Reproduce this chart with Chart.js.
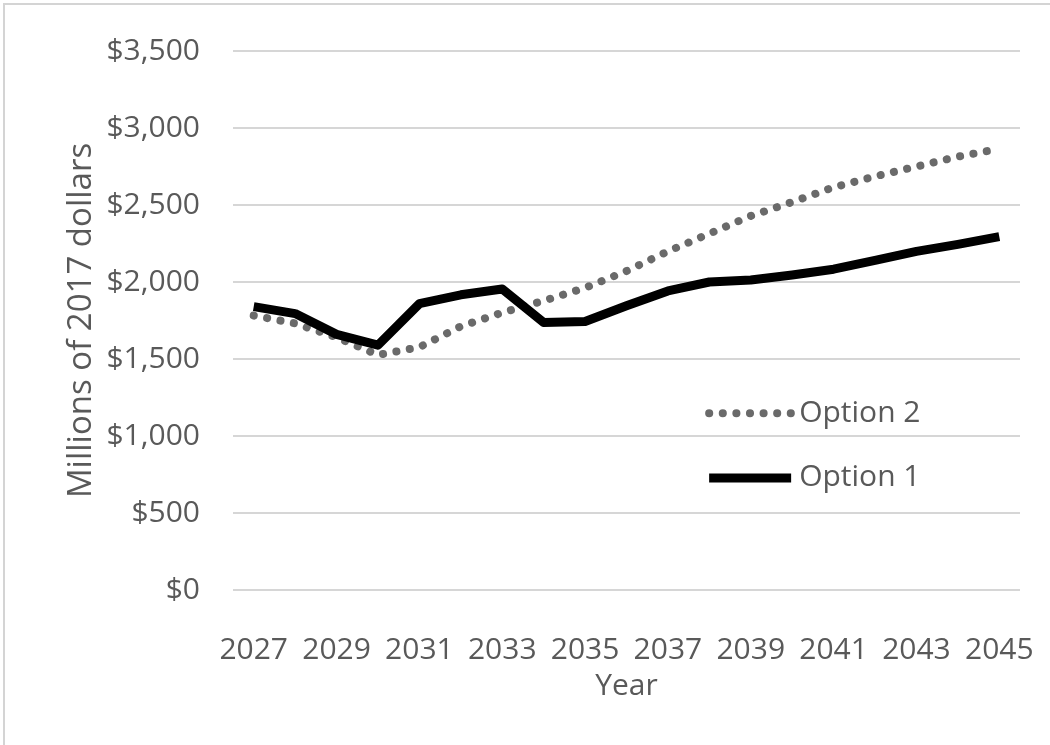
<!DOCTYPE html>
<html>
<head>
<meta charset="utf-8">
<script src="https://cdn.jsdelivr.net/npm/chart.js@4/dist/chart.umd.min.js"></script>
<style>
  body { margin: 0; background: #fff; }
  #wrap { position: relative; width: 1050px; height: 745px; overflow: hidden; }
  #frame { position: absolute; left: 3px; top: 3px; width: 1100px; height: 800px;
           border-left: 2px solid #d4d4d4; border-top: 2px solid #d4d4d4; pointer-events: none; }
</style>
</head>
<body>
<div id="wrap">
  <canvas id="chart" width="1050" height="745"></canvas>
  <div id="frame"></div>
</div>
<script>
const years = ['2027', '2028', '2029', '2030', '2031', '2032', '2033', '2034', '2035', '2036',
               '2037', '2038', '2039', '2040', '2041', '2042', '2043', '2044', '2045'];
const option1 = [1840, 1795, 1660, 1590, 1859, 1917, 1955, 1737, 1744, 1846,
                 1942, 2000, 2013, 2045, 2083, 2141, 2199, 2244, 2295];
const option2 = [1782, 1731, 1641, 1526, 1577, 1712, 1801, 1878, 1962, 2071,
                 2199, 2314, 2429, 2519, 2615, 2686, 2750, 2814, 2865];
const yMax = 3500;
const yStep = 500;

const textColor = '#595959';
const fontFamily = '"Open Sans", sans-serif';

// legend drawn inside the plot, like the original
const insideLegend = {
  id: 'insideLegend',
  afterDatasetsDraw(chart) {
    const ctx = chart.ctx;
    const area = chart.chartArea;
    const x0 = area.left + (area.right - area.left) * 0.605;
    const rows = [
      { ds: chart.data.datasets[0], y: area.top + (area.bottom - area.top) * 0.672 },
      { ds: chart.data.datasets[1], y: area.top + (area.bottom - area.top) * 0.792 }
    ];
    ctx.save();
    rows.forEach(r => {
      ctx.beginPath();
      ctx.strokeStyle = r.ds.borderColor;
      ctx.lineWidth = r.ds.borderWidth;
      ctx.lineCap = r.ds.borderCapStyle || 'butt';
      ctx.setLineDash(r.ds.borderDash || []);
      ctx.moveTo(x0, r.y);
      ctx.lineTo(x0 + 82, r.y);
      ctx.stroke();
      ctx.setLineDash([]);
      ctx.fillStyle = textColor;
      ctx.font = '30px ' + fontFamily;
      ctx.textBaseline = 'middle';
      ctx.fillText(r.ds.label, x0 + 90, r.y);
    });
    ctx.restore();
  }
};

new Chart(document.getElementById('chart'), {
  type: 'line',
  data: {
    labels: years,
    datasets: [
      {
        label: 'Option 2',
        data: option2,
        borderColor: '#6a6a6a',
        borderWidth: 8,
        borderDash: [0.1, 13.5],
        borderCapStyle: 'round',
        pointRadius: 0,
        tension: 0,
        order: 1
      },
      {
        label: 'Option 1',
        data: option1,
        borderColor: '#000000',
        borderWidth: 9,
        borderJoinStyle: 'round',
        pointRadius: 0,
        tension: 0,
        order: 0
      }
    ]
  },
  options: {
    responsive: false,
    animation: false,
    devicePixelRatio: 1,
    layout: { padding: { left: 62, right: 30, top: 46, bottom: 41 } },
    plugins: {
      legend: { display: false },
      tooltip: { enabled: false }
    },
    scales: {
      x: {
        offset: true,
        grid: { display: false, drawTicks: false },
        border: { display: false },
        ticks: {
          autoSkip: false,
          maxRotation: 0,
          padding: 42,
          color: textColor,
          font: { family: fontFamily, size: 30 },
          callback: (v, i) => (i % 2 === 0 ? years[i] : '')
        },
        title: {
          display: true,
          text: 'Year',
          color: textColor,
          padding: 0,
          font: { family: fontFamily, size: 30 }
        },
        afterFit: (s) => { s.height = 114; s.paddingLeft = 0; s.paddingRight = 0; }
      },
      y: {
        min: 0,
        max: yMax,
        grid: { color: '#d6d6d6', lineWidth: 2, drawTicks: false },
        border: { display: false },
        ticks: {
          stepSize: yStep,
          padding: 33,
          color: textColor,
          font: { family: fontFamily, size: 30 },
          callback: (v) => '$' + v.toLocaleString('en-US')
        },
        title: {
          display: true,
          text: 'Millions of 2017 dollars',
          color: textColor,
          padding: 0,
          font: { family: fontFamily, size: 33 }
        },
        afterFit: (s) => { s.width = 171; }
      }
    }
  },
  plugins: [insideLegend]
});
</script>
</body>
</html>
